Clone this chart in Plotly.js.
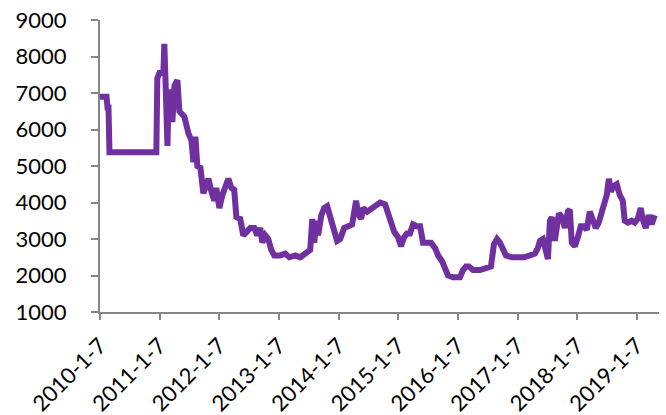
<!DOCTYPE html>
<html>
<head>
<meta charset="utf-8">
<script src="https://cdn.plot.ly/plotly-3.0.1.min.js"></script>
<style>html,body{margin:0;padding:0;background:#fff;}#chart{width:666px;height:415px;}</style>
</head>
<body>
<div id="chart"></div>
<script>
const dates = [
"2010-01-07","2010-02-16","2010-02-22","2010-02-28","2010-03-06","2010-12-18","2010-12-24","2011-01-06","2011-01-30","2011-02-05",
"2011-02-11","2011-02-24","2011-03-02","2011-03-08","2011-03-20","2011-03-26","2011-04-08","2011-04-26","2011-05-08","2011-06-08",
"2011-07-02","2011-07-21","2011-08-02","2011-08-14","2011-08-26","2011-09-14","2011-10-02","2011-10-20","2011-11-02","2011-11-20",
"2011-12-08","2011-12-20","2012-01-08","2012-01-26","2012-02-13","2012-03-03","2012-03-21","2012-04-08","2012-04-21","2012-05-15",
"2012-06-02","2012-06-21","2012-07-15","2012-08-09","2012-08-27","2012-09-14","2012-09-27","2012-10-15","2012-11-02","2012-11-21",
"2012-12-09","2013-01-15","2013-02-14","2013-03-11","2013-04-17","2013-05-17","2013-06-23","2013-07-17","2013-07-30","2013-08-11",
"2013-08-23","2013-09-04","2013-09-23","2013-10-11","2013-10-29","2013-11-16","2013-12-11","2013-12-29","2014-01-17","2014-02-10",
"2014-03-07","2014-03-31","2014-04-24","2014-05-07","2014-05-25","2014-06-06","2014-07-01","2014-07-31","2014-08-25","2014-09-18",
"2014-10-19","2014-11-06","2014-11-18","2014-12-13","2015-01-06","2015-01-24","2015-02-12","2015-03-02","2015-03-20","2015-04-08",
"2015-05-02","2015-05-21","2015-06-08","2015-07-03","2015-07-27","2015-08-21","2015-09-08","2015-10-02","2015-10-21","2015-11-08",
"2015-12-09","2016-01-20","2016-02-08","2016-02-26","2016-03-15","2016-04-09","2016-05-22","2016-07-04","2016-07-28","2016-08-15",
"2016-09-03","2016-09-21","2016-10-09","2016-10-28","2016-12-04","2017-01-09","2017-02-15","2017-03-24","2017-04-23","2017-05-11",
"2017-05-24","2017-06-11","2017-06-29","2017-07-12","2017-07-24","2017-08-05","2017-08-23","2017-09-05","2017-09-17","2017-10-05",
"2017-10-24","2017-11-11","2017-11-23","2017-12-05","2017-12-24","2018-01-11","2018-01-29","2018-02-17","2018-03-07","2018-03-25",
"2018-04-13","2018-05-01","2018-05-19","2018-06-07","2018-06-25","2018-07-07","2018-07-20","2018-08-01","2018-08-19","2018-09-06",
"2018-09-25","2018-10-13","2018-10-25","2018-11-13","2018-12-07","2018-12-25","2019-01-13","2019-01-31","2019-02-12","2019-03-03",
"2019-03-21","2019-04-08","2019-04-27"
];
const prices = [
6900,6900,6600,6600,5380,5380,7400,7550,7550,8350,
7500,5550,6700,6300,7100,6200,7200,7350,6500,6350,
5900,5700,5100,5800,5000,4950,4250,4500,4650,4300,
4050,4400,3850,4200,4450,4650,4400,4350,3600,3550,
3100,3200,3300,3300,3100,3300,2900,3100,3000,2700,
2550,2550,2600,2500,2550,2500,2650,2700,3550,2900,
3500,3100,3650,3850,3900,3650,3200,2950,3000,3300,
3350,3400,4050,3700,3550,3850,3750,3850,3900,4000,
3950,3700,3500,3200,3050,2800,3050,3150,3150,3400,
3350,3350,2900,2900,2900,2750,2550,2400,2150,2000,
1950,1950,2150,2250,2250,2150,2150,2200,2250,2850,
3000,2900,2700,2550,2500,2500,2500,2550,2600,2750,
2950,3000,2750,2450,3500,3600,2950,3500,3700,3600,
3300,3750,3800,2900,2800,3050,3350,3350,3250,3750,
3550,3300,3450,3800,4000,4200,4650,4300,4450,4500,
4200,4050,3500,3450,3500,3450,3550,3850,3550,3300,
3650,3400,3650
];
const tickDates = ["2010-01-07","2011-01-07","2012-01-07","2013-01-07","2014-01-07","2015-01-07","2016-01-07","2017-01-07","2018-01-07","2019-01-07"];
const tickLabels = ["2010-1-7","2011-1-7","2012-1-7","2013-1-7","2014-1-7","2015-1-7","2016-1-7","2017-1-7","2018-1-7","2019-1-7"];
const yTicks = [1000,2000,3000,4000,5000,6000,7000,8000,9000];

const font = {family: "Lato, 'Liberation Sans', sans-serif", size: 22, color: "#000"};
Plotly.newPlot("chart", [{
  x: dates, y: prices, type: "scatter", mode: "lines",
  line: {color: "#7030A0", width: 6, shape: "linear"},
  hoverinfo: "skip"
}], {
  width: 666, height: 415,
  margin: {l: 100, r: 7, t: 20, b: 103},
  paper_bgcolor: "#fff", plot_bgcolor: "#fff",
  showlegend: false,
  font: font,
  xaxis: {
    type: "date", range: ["2010-01-07", "2019-05-23"],
    tickmode: "array", tickvals: tickDates, ticktext: tickLabels,
    tickangle: -45, ticks: "outside", ticklen: 6, tickwidth: 2, tickcolor: "#868686",
    ticklabelstandoff: 4,
    showline: true, linecolor: "#868686", linewidth: 2,
    showgrid: false, zeroline: false, tickfont: font
  },
  yaxis: {
    range: [1000, 9000], tickmode: "array", tickvals: yTicks,
    ticks: "outside", ticklen: 7, tickwidth: 2, tickcolor: "#868686",
    ticklabelstandoff: 20,
    showline: true, linecolor: "#868686", linewidth: 2,
    showgrid: false, zeroline: false, tickfont: font
  }
}, {displayModeBar: false, staticPlot: true});
</script>
</body>
</html>
